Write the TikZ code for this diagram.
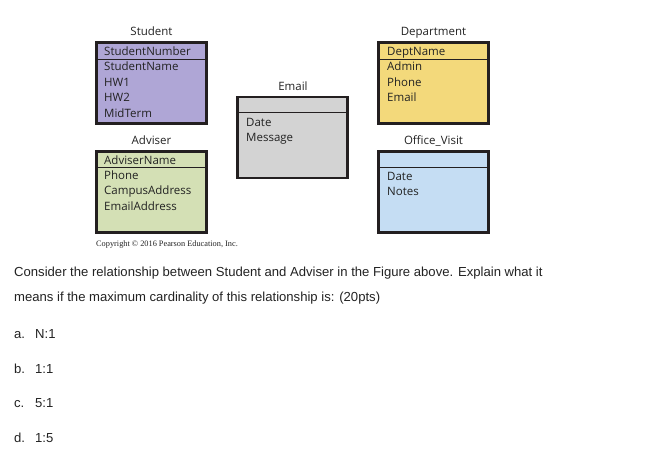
\documentclass[tikz,border=0pt]{standalone}
\usepackage{fontspec}
\setmainfont{Liberation Sans}
\newfontfamily\diafont{Open Sans}
\newfontfamily\copyfont{Liberation Serif}
\usetikzlibrary{positioning, calc}
\definecolor{ink}{HTML}{231F20}
\definecolor{txt}{HTML}{222222}
\definecolor{stufill}{HTML}{AFA6D6}
\definecolor{depfill}{HTML}{F3D97B}
\definecolor{mailfill}{HTML}{D3D3D3}
\definecolor{advfill}{HTML}{D4E0B5}
\definecolor{visfill}{HTML}{C5DDF3}
\tikzset{
  ent/.style={draw=ink, line width=2.6pt, minimum width=110pt, minimum height=81pt,
              inner sep=0pt},
  hdr/.style={draw=ink, line width=1.4pt},
  ttl/.style={font=\diafont\fontsize{11.5}{13}\selectfont, text=txt, inner sep=0pt,
              text height=10pt, text depth=1.5pt},
  attr/.style={ttl, anchor=west},
  qtext/.style={font=\fontsize{13.1}{15}\selectfont, text=txt, inner sep=0pt,
                text height=11pt, text depth=1.5pt, anchor=west},
}

\begin{document}
\begin{tikzpicture}[x=1pt, y=-1pt]
\useasboundingbox (0,0) rectangle (657,466);

% ------------------------------------------------------------ student
\node[ttl] (stuT) at (151.5,31) {Student};
\node[ent, fill=stufill] (stu) at (151.5,83) {};
\draw[hdr] ([yshift=-18pt]stu.north west) -- ([yshift=-18pt]stu.north east);
\foreach \t [count=\i] in {StudentNumber,StudentName,HW1,HW2,MidTerm}
  \node[attr] (stu\i) at (104,51+15.5*\i-15.5) {\t};

% --------------------------------------------------------- department
\node[ttl] (depT) at (433.5,31) {Department};
\node[ent, fill=depfill] (dep) at (433.5,83) {};
\draw[hdr] ([yshift=-18pt]dep.north west) -- ([yshift=-18pt]dep.north east);
\foreach \t [count=\i] in {DeptName,Admin,Phone,Email}
  \node[attr] (dep\i) at (387,51+15.5*\i-15.5) {\t};

% -------------------------------------------------------------- email
\node[ttl] (mailT) at (293,86) {Email};
\node[ent, fill=mailfill] (mail) at (292.5,137.5) {};
\draw[hdr] ([yshift=-17pt]mail.north west) -- ([yshift=-17pt]mail.north east);
\foreach \t [count=\i] in {Date,Message}
  \node[attr] (mail\i) at (246,122+15.5*\i-15.5) {\t};

% ------------------------------------------------------------ adviser
\node[ttl] (advT) at (151.5,140) {Adviser};
\node[ent, fill=advfill] (adv) at (151.5,192) {};
\draw[hdr] ([yshift=-17pt]adv.north west) -- ([yshift=-17pt]adv.north east);
\foreach \t [count=\i] in {AdviserName,Phone,CampusAddress,EmailAddress}
  \node[attr] (adv\i) at (104,160+15.3*\i-15.3) {\t};

% ------------------------------------------------------- office visit
\node[ttl] (visT) at (433.5,140) {Office\_Visit};
\node[ent, fill=visfill] (vis) at (433.5,192) {};
\draw[hdr] ([yshift=-17pt]vis.north west) -- ([yshift=-17pt]vis.north east);
\foreach \t [count=\i] in {Date,Notes}
  \node[attr] (vis\i) at (387,176.5+15*\i-15) {\t};

\node[anchor=west, inner sep=0pt, text=txt,
      font=\copyfont\fontsize{8.3}{9}\selectfont] (copy) at (96,245)
  {Copyright \textcopyright\ 2016 Pearson Education, Inc.};

% ----------------------------------------------------------- question
\node[qtext] (q1) at (14,272)
  {Consider the relationship between Student and Adviser in the Figure above. Explain what it};
\node[qtext] (q2) at (14,297)
  {means if the maximum cardinality of this relationship is: (20pts)};

\foreach \l/\v/\y in {a./N:1/334, b./1:1/368.5, c./5:1/403, d./1:5/438} {
  \node[qtext] at (14,\y) {\l};
  \node[qtext] at (35,\y) {\v};
}

\end{tikzpicture}
\end{document}
